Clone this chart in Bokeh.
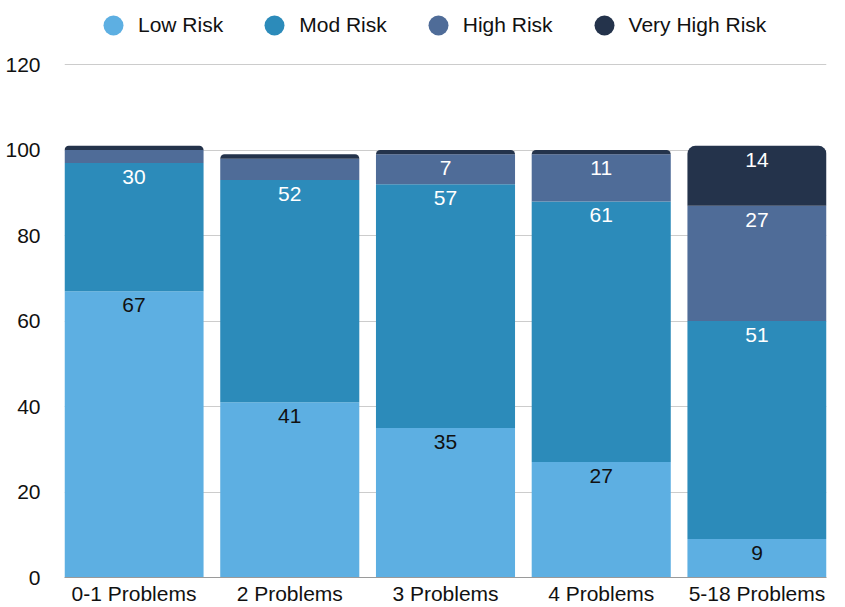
import numpy as np
from bokeh.plotting import figure
from bokeh.models import (ColumnDataSource, FixedTicker, Legend, LegendItem, Range1d)
from bokeh.core.properties import value
from bokeh.embed import file_html
from bokeh.resources import INLINE

# ---- data ----
categories = ["0-1 Problems", "2 Problems", "3 Problems", "4 Problems", "5-18 Problems"]
low_risk = [67, 41, 35, 27, 9]
mod_risk = [30, 52, 57, 61, 51]
high_risk = [3, 5, 7, 11, 27]
very_high_risk = [1, 1, 1, 1, 14]
series_names = ["Low Risk", "Mod Risk", "High Risk", "Very High Risk"]
y_ticks = [0, 20, 40, 60, 80, 100, 120]

# ---- styles ----
colors = ["#5DAFE2", "#2C8BBA", "#4F6C98", "#24334B"]
label_colors = ["#111111", "#ffffff", "#ffffff", "#ffffff"]
FONT = "Liberation Sans"
FS = "21px"
bar_w = 0.893
min_label = 7
y_top = 135  # extra room above 120 for the legend row

series = [low_risk, mod_risk, high_risk, very_high_risk]
xs = list(range(len(categories)))

p = figure(width=845, height=607, output_backend="svg", toolbar_location=None,
           x_range=Range1d(-bar_w / 2, len(categories) - 1 + bar_w / 2),
           y_range=Range1d(0, y_top),
           min_border_left=64, min_border_right=19, min_border_top=0, min_border_bottom=29)
p.outline_line_color = None
p.background_fill_color = "white"
p.border_fill_color = "white"

bottom = np.zeros(len(categories))
legend_items = []
for i, (name, vals) in enumerate(zip(series_names, series)):
    vals = np.array(vals, dtype=float)
    top = bottom + vals
    src = ColumnDataSource(dict(x=xs, bottom=bottom.tolist(), top=top.tolist()))
    kw = {}
    if i == len(series) - 1:
        kw["border_radius"] = (8, 8, 0, 0)
    p.vbar(x="x", bottom="bottom", top="top", width=bar_w, source=src,
           fill_color=colors[i], line_color=None, **kw)
    # labels
    lx, ly, lt = [], [], []
    for j, v in enumerate(vals):
        if v >= min_label:
            lx.append(xs[j]); ly.append(top[j]); lt.append(str(int(v)))
    p.text(x=lx, y=ly, text=lt, text_align="center", text_baseline="middle",
           y_offset=14, text_font=value(FONT), text_font_size=FS,
           text_color=label_colors[i])
    # legend-only marker (not shown in the plot area)
    r = p.scatter(x=[np.nan], y=[np.nan], marker="circle", size=20,
                  fill_color=colors[i], line_color=None)
    legend_items.append(LegendItem(label=name, renderers=[r]))
    bottom = top

legend = Legend(items=legend_items, orientation="horizontal", location=(24, 527),
                glyph_width=50, glyph_height=50, label_standoff=-4, spacing=26,
                padding=0, margin=0, background_fill_alpha=0, border_line_color=None,
                label_text_font=FONT, label_text_font_size=FS, label_text_color="#111111")
p.add_layout(legend, "center")

# axes
p.xaxis.ticker = FixedTicker(ticks=xs)
p.xaxis.major_label_overrides = {x: c for x, c in zip(xs, categories)}
p.xaxis.major_tick_line_color = None
p.xaxis.minor_tick_line_color = None
p.xaxis.axis_line_color = "#9a9a9a"
p.xaxis.major_label_standoff = -2
p.xaxis.major_label_text_font = FONT
p.xaxis.major_label_text_font_size = FS
p.xaxis.major_label_text_color = "#111111"

p.yaxis.ticker = FixedTicker(ticks=y_ticks)
p.yaxis.axis_line_color = None
p.yaxis.major_tick_line_color = None
p.yaxis.minor_tick_line_color = None
p.yaxis.major_label_standoff = 18
p.yaxis.major_label_text_font = FONT
p.yaxis.major_label_text_font_size = FS
p.yaxis.major_label_text_color = "#111111"

p.xgrid.grid_line_color = None
p.ygrid.ticker = FixedTicker(ticks=y_ticks)
p.ygrid.grid_line_color = "#cccccc"

open("out.html", "w").write(file_html(p, INLINE))
